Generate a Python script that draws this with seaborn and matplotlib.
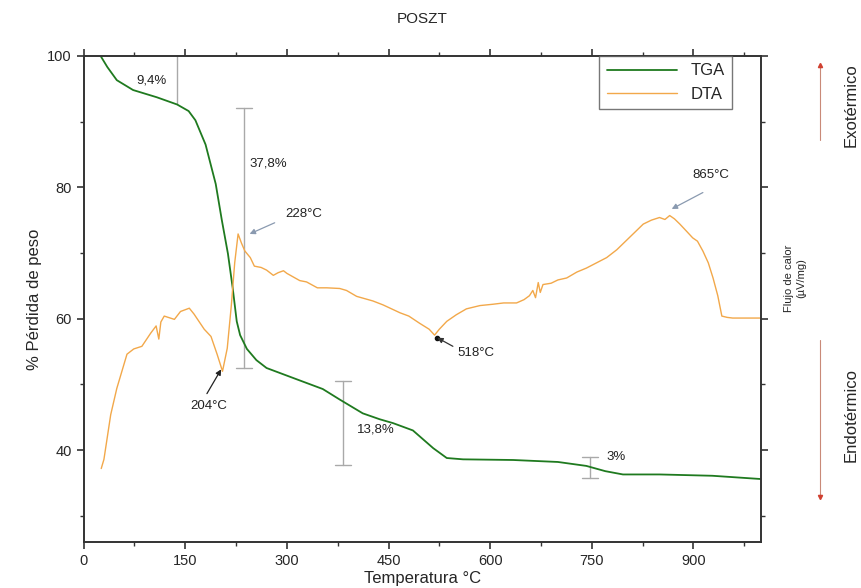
import matplotlib
matplotlib.use("Agg")
import matplotlib.pyplot as plt
from matplotlib.lines import Line2D
from matplotlib.ticker import MultipleLocator
import seaborn as sns
import pandas as pd

# ---- data ----
tga_temp = [25, 35, 49, 73, 108, 138, 155, 165, 180, 195, 204, 213, 220, 226, 231, 241, 255, 270,
            314, 353, 378, 412, 437, 457, 486, 516, 536, 560, 634, 700, 742, 770, 796, 850, 928, 1000]
tga_mass = [100, 98.3, 96.3, 94.8, 93.7, 92.6, 91.6, 90.2, 86.5, 80.5, 75.0, 69.9, 64.7, 59.6, 57.5, 55.4, 53.7, 52.5,
            50.8, 49.3, 47.7, 45.6, 44.7, 44.1, 43.0, 40.3, 38.8, 38.6, 38.5, 38.2, 37.6, 36.8, 36.3, 36.3, 36.1, 35.6]

dta_temp = [26, 30, 40, 49, 64, 74, 86, 99, 107, 111, 114, 119, 134, 143, 156, 163, 178, 188, 197, 205,
            212, 218, 223, 228, 233, 238, 246, 252, 262, 270, 280, 287, 295, 300, 319, 329, 345, 359, 378,
            388, 403, 427, 442, 467, 480, 496, 510, 518, 525, 536, 550, 565, 585, 604, 620, 639, 650, 658,
            663, 667, 671, 674, 678, 690, 700, 713, 728, 742, 757, 772, 787, 801, 812, 826, 838, 850, 858,
            865, 872, 880, 890, 899, 906, 914, 922, 929, 936, 942, 950, 958, 975, 1000]
dta_signal = [37.2, 38.6, 45.4, 49.4, 54.6, 55.4, 55.8, 57.8, 58.9, 56.9, 59.5, 60.4, 59.9, 61.1, 61.6, 60.7,
              58.4, 57.3, 54.6, 52.0, 55.5, 62.0, 68.5, 72.9, 71.5, 70.3, 69.3, 68.0, 67.8, 67.4, 66.6, 67.0,
              67.3, 66.9, 65.8, 65.6, 64.7, 64.7, 64.6, 64.3, 63.4, 62.7, 62.1, 60.9, 60.4, 59.3, 58.4, 57.5,
              58.4, 59.6, 60.6, 61.5, 62.0, 62.2, 62.4, 62.4, 62.9, 63.5, 64.3, 63.2, 65.5, 64.0, 65.2, 65.4,
              65.9, 66.2, 67.1, 67.7, 68.5, 69.3, 70.5, 71.9, 73.0, 74.4, 75.0, 75.4, 75.1, 75.7, 75.2, 74.4,
              73.3, 72.3, 71.8, 70.3, 68.5, 66.2, 63.5, 60.4, 60.2, 60.1, 60.1, 60.1]

# mass-loss bars
bar_x = [138, 237, 383, 747]
bar_top = [100, 92.0, 50.5, 39.0]
bar_bot = [92.6, 52.5, 37.8, 35.7]
bar_labels = ["9,4%", "37,8%", "13,8%", "3%"]
bar_label_x = [100, 245, 431, 786]
bar_label_y = [96.3, 83.6, 43.1, 39.0]

# peak labels
peak_labels = ["204°C", "228°C", "518°C", "865°C"]
peak_label_x = [185, 297, 552, 899]
peak_label_y = [46.7, 76.0, 54.8, 81.8]
peak_point_x = [203, 245, 522, 868]
peak_point_y = [52.3, 72.9, 57.1, 76.7]
peak_tail_x = [182, 282, 545, 914]
peak_tail_y = [48.6, 74.6, 55.8, 79.2]

# ---- plot ----
sns.set_style("ticks")
plt.rcParams['font.family'] = ['Liberation Sans', 'DejaVu Sans']

fig = plt.figure(figsize=(8.62, 5.88), dpi=100)
ax = fig.add_axes([0.097, 0.078, 0.786, 0.827])

tga_df = pd.DataFrame({"Temperatura": tga_temp, "valor": tga_mass})
dta_df = pd.DataFrame({"Temperatura": dta_temp, "valor": dta_signal})

sns.lineplot(data=tga_df, x="Temperatura", y="valor", ax=ax, color="#1f7a1f", lw=1.3, label="TGA")
sns.lineplot(data=dta_df, x="Temperatura", y="valor", ax=ax, color="#f2a84a", lw=1.0, label="DTA")

gray = "#a9a9a9"
for i, (bx, t, b) in enumerate(zip(bar_x, bar_top, bar_bot)):
    ax.plot([bx, bx], [b, t], color=gray, lw=1.0, zorder=1)
    if i > 0:
        ax.plot([bx - 12, bx + 12], [t, t], color=gray, lw=1.0, zorder=1)
        ax.plot([bx - 12, bx + 12], [b, b], color=gray, lw=1.0, zorder=1)
for lab, lx, ly in zip(bar_labels, bar_label_x, bar_label_y):
    ha = "left" if lab == "37,8%" else "center"
    ax.text(lx, ly, lab, fontsize=9.5, ha=ha, va="center", color="#222")

arrow_cols = ["#222", "#8a9ab0", "#333", "#8a9ab0"]
label_ha = ["center", "left", "left", "left"]
for i in range(4):
    ax.annotate("", xy=(peak_point_x[i], peak_point_y[i]), xytext=(peak_tail_x[i], peak_tail_y[i]),
                arrowprops=dict(arrowstyle="-|>", color=arrow_cols[i], lw=0.9, shrinkA=0, shrinkB=0,
                                mutation_scale=8))
    ax.text(peak_label_x[i], peak_label_y[i], peak_labels[i], fontsize=9.5, ha=label_ha[i], va="center",
            color="#222")
ax.plot([peak_point_x[2]], [peak_point_y[2]], marker="o", ms=3, color="#111")

ax.set_xlim(0, 1000)
ax.set_ylim(26, 100)
ax.xaxis.set_major_locator(MultipleLocator(150))
ax.xaxis.set_minor_locator(MultipleLocator(75))
ax.yaxis.set_minor_locator(MultipleLocator(10))
ax.set_yticks([40, 60, 80, 100])
ax.tick_params(axis="both", which="major", labelsize=10.5, length=5, width=1.2, color="#333")
ax.tick_params(axis="both", which="minor", length=3, width=1.0, color="#333")
ax.tick_params(top=True, right=True, which="both")
ax.tick_params(axis="y", which="both", right=True, direction="out")
ax.tick_params(axis="y", which="both", left=True)
for s in ax.spines.values():
    s.set_visible(True)
    s.set_color("#333")
    s.set_linewidth(1.4)

ax.set_xlabel("Temperatura °C", fontsize=12, labelpad=2)
ax.set_ylabel("% Pérdida de peso", fontsize=12, labelpad=4)
ax.set_title("POSZT", fontsize=11, pad=24)

leg = ax.legend(loc="upper right", bbox_to_anchor=(0.957, 1.0), borderaxespad=0, frameon=True,
                fancybox=False, edgecolor="#555", fontsize=12, handlelength=4.2, borderpad=0.45,
                labelspacing=0.5)
leg.get_frame().set_linewidth(1.0)

# right side heat-flow indicators
arrow_col = "#c98a78"
fig.add_artist(Line2D([0.951, 0.951], [0.762, 0.886], transform=fig.transFigure, color=arrow_col, lw=0.8))
fig.add_artist(Line2D([0.951], [0.889], transform=fig.transFigure, marker="^", ms=3, color="#d04030"))
fig.add_artist(Line2D([0.951, 0.951], [0.158, 0.422], transform=fig.transFigure, color=arrow_col, lw=0.8))
fig.add_artist(Line2D([0.951], [0.155], transform=fig.transFigure, marker="v", ms=3, color="#d04030"))
fig.text(0.987, 0.821, "Exotérmico", rotation=90, ha="center", va="center", fontsize=12)
fig.text(0.987, 0.294, "Endotérmico", rotation=90, ha="center", va="center", fontsize=12)
fig.text(0.915, 0.527, "Flujo de calor", rotation=90, ha="center", va="center", fontsize=8)
fig.text(0.929, 0.527, "(µV/mg)", rotation=90, ha="center", va="center", fontsize=8)

fig.savefig("out.png", dpi=100)
